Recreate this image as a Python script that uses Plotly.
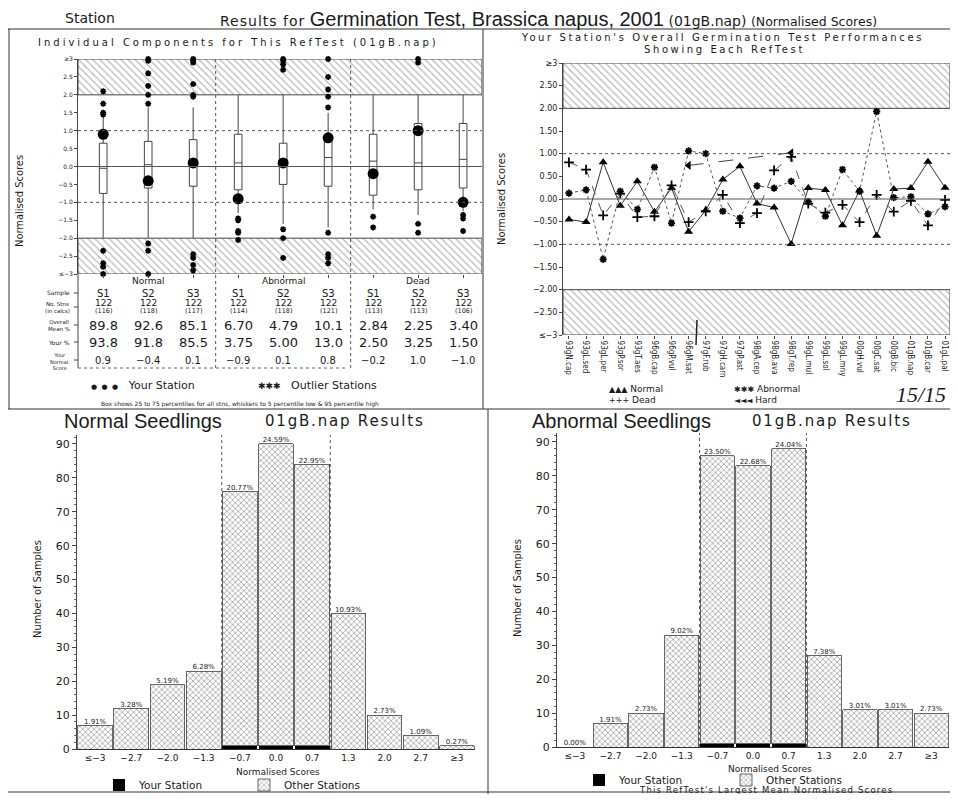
import plotly.graph_objects as go

# the page body adds an 8px margin on every side; size the figure so the page fits the window exactly
OFF = 8
W, H = 958 - 2 * OFF, 802 - 2 * OFF


def fx(p):
    return (p - OFF) / W


def fy(p):
    return 1 - (p - OFF) / H


GOTHIC = "DejaVu Sans"
ARIAL = "Liberation Sans, Arial"
NARROW = "Liberation Sans Narrow, DejaVu Sans Condensed"
COND = "DejaVu Sans Condensed"
INK = "#1a1a1a"

# ---------------- data: individual components (top-left) ----------------
categories = ["Normal", "Abnormal", "Dead"]
sample_labels = ["S1", "S2", "S3", "S1", "S2", "S3", "S1", "S2", "S3"]
box_pos = [1, 2, 3, 4, 5, 6, 7, 8, 9]
box_q1 = [-0.75, -0.60, -0.55, -0.65, -0.50, -0.55, -0.80, -0.65, -0.60]
box_median = [-0.05, 0.05, 0.20, 0.10, 0.10, 0.25, 0.15, 0.10, 0.20]
box_q3 = [0.65, 0.70, 0.75, 0.90, 0.65, 0.75, 0.90, 1.20, 1.20]
box_low = [-2.10, -2.00, -2.20, -1.30, -1.60, -1.70, -1.20, -1.35, -1.25]
box_high = [1.55, 1.65, 1.65, 3.00, 2.60, 1.50, 3.00, 3.00, 3.00]
outliers = [
    [2.1, 1.75, 1.5, 1.45, -2.35, -2.7, -2.8, -3.0],
    [3.0, 2.95, 2.6, 2.25, 2.0, 1.75, -2.15, -2.35, -3.0],
    [3.0, 2.95, 2.9, 2.3, 2.0, 1.95, -2.45, -2.55, -2.75, -2.9],
    [-1.45, -1.5, -1.8, -1.85, -2.05],
    [3.0, 2.95, 2.85, 2.7, -1.75, -2.0, -2.55],
    [3.0, 2.5, 2.15, 1.95, 1.65, -1.85, -2.45, -2.55, -2.7],
    [-1.4, -1.7],
    [3.0, 2.9, -1.6, -1.85],
    [-1.35, -1.45, -1.8],
]
your_score = [0.9, -0.4, 0.1, -0.9, 0.1, 0.8, -0.2, 1.0, -1.0]
n_stns = [122, 122, 122, 122, 122, 122, 122, 122, 122]
n_in_calcs = [116, 118, 117, 114, 118, 121, 113, 113, 106]
overall_mean = [89.8, 92.6, 85.1, 6.70, 4.79, 10.1, 2.84, 2.25, 3.40]
your_pct = [93.8, 91.8, 85.5, 3.75, 5.00, 13.0, 2.50, 3.25, 1.50]
tl_ytick_vals = [-3, -2.5, -2, -1.5, -1, -0.5, 0, 0.5, 1, 1.5, 2, 2.5, 3]
tl_ytick_text = ["≤−3", "−2.5", "−2.0", "−1.5", "−1.0", "−0.5", "0.0",
                 "0.5", "1.0", "1.5", "2.0", "2.5", "≥3"]

# ---------------- data: overall performances (top-right) ----------------
reftests = ["93gN.cap", "93gL.sed", "93gL.per", "93gP.sor", "93gT.aes",
            "96gB.cap", "96gP.vul", "96gM.sat", "97gF.rub", "97gH.carn",
            "97gP.ast", "98gA.cep", "98gB.ava", "98gT.rep", "99gL.mul",
            "99gL.sol", "99gL.mny", "00gH.vul", "00gC.sat", "00gB.bic",
            "01gB.nap", "01gB.car", "01gL.pal"]
perf_normal = [-0.45, -0.51, 0.81, -0.15, 0.39, -0.28, 0.24, -0.72, -0.25, 0.43,
               0.72, -0.10, -0.19, -0.99, 0.24, 0.20, -0.58, 0.19, -0.81, 0.22,
               0.24, 0.82, 0.25]
perf_abnormal = [0.13, 0.20, -1.33, 0.17, -0.23, 0.70, -0.53, 1.06, 1.00, -0.27,
                 -0.42, 0.29, 0.24, 0.39, -0.06, -0.38, 0.65, 0.17, 1.93, 0.03,
                 0.05, -0.33, -0.17]
perf_dead = [0.81, 0.65, -0.36, 0.12, -0.40, -0.38, 0.30, -0.51, -0.27, 0.09,
             -0.53, -0.31, 0.63, 0.93, -0.10, -0.30, -0.13, -0.51, 0.09, -0.28,
             -0.04, -0.58, -0.02]
perf_hard = [None, None, None, None, None, None, None, 0.74, None, None,
             None, None, None, 1.02, None, None, None, None, None, None,
             None, None, None]
tr_ytick_vals = [-3, -2.5, -2, -1.5, -1, -0.5, 0, 0.5, 1, 1.5, 2, 2.5, 3]
tr_ytick_text = ["≤−3", "−2.50", "−2.00", "−1.50", "−1.00", "−0.50", "0.00",
                 "0.50", "1.00", "1.50", "2.00", "2.50", "≥3"]

# ---------------- data: histograms (bottom) ----------------
score_bins = ["≤−3", "−2.7", "−2.0", "−1.3", "−0.7", "0.0", "0.7", "1.3", "2.0", "2.7", "≥3"]
normal_counts = [7, 12, 19, 23, 76, 90, 84, 40, 10, 4, 1]
normal_your = [0, 0, 0, 0, 1, 1, 1, 0, 0, 0, 0]
abnormal_counts = [0, 7, 10, 33, 86, 83, 88, 27, 11, 11, 10]
abnormal_your = [0, 0, 0, 0, 1, 1, 1, 0, 0, 0, 0]
count_ticks = [0, 10, 20, 30, 40, 50, 60, 70, 80, 90]

# ---------------- figure ----------------
fig = go.Figure()

XR1 = [0.44, 9.42]
XR2 = [0.65, 23.29]
YR = [-3, 3]
HATCH = dict(shape="\\", size=5, solidity=0.22, fgcolor="#6a6a6a", bgcolor="white")


def band(xr, y0, y1, xa, ya):
    return go.Scatter(x=[xr[0], xr[1], xr[1], xr[0], xr[0]], y=[y0, y0, y1, y1, y0],
                      xaxis=xa, yaxis=ya, mode="lines", fill="toself",
                      fillcolor="white", fillpattern=HATCH,
                      line=dict(color="#444", width=1), hoverinfo="skip", showlegend=False)


# top-left hatched extreme bands
fig.add_trace(band(XR1, 2, YR[1], "x", "y"))
fig.add_trace(band(XR1, YR[0], -2, "x", "y"))

fig.add_trace(go.Box(x=box_pos, q1=box_q1, median=box_median, q3=box_q3,
                     lowerfence=box_low, upperfence=box_high, orientation="v",
                     width=0.17, whiskerwidth=0, fillcolor="white", boxpoints=False,
                     line=dict(color="#444", width=1), xaxis="x", yaxis="y",
                     showlegend=False, hoverinfo="skip"))

ox, oy = [], []
for p, vals in zip(box_pos, outliers):
    for v in vals:
        ox.append(p)
        oy.append(v)
fig.add_trace(go.Scatter(x=ox, y=oy, mode="markers", xaxis="x", yaxis="y",
                         marker=dict(symbol="asterisk-open", size=5, color="black",
                                     line=dict(color="black", width=1.6)),
                         showlegend=False, hoverinfo="skip", cliponaxis=False))
fig.add_trace(go.Scatter(x=box_pos, y=your_score, mode="markers", xaxis="x", yaxis="y",
                         marker=dict(symbol="circle", size=11, color="black"),
                         showlegend=False, hoverinfo="skip"))

# top-right
fig.add_trace(band(XR2, 2, YR[1], "x2", "y2"))
fig.add_trace(band(XR2, YR[0], -2, "x2", "y2"))
xs = list(range(1, len(reftests) + 1))
fig.add_trace(go.Scatter(x=xs, y=perf_normal, mode="lines+markers", xaxis="x2", yaxis="y2",
                         line=dict(color="#333", width=1),
                         marker=dict(symbol="triangle-up", size=8, color="black"),
                         showlegend=False, hoverinfo="skip"))
fig.add_trace(go.Scatter(x=xs, y=perf_abnormal, mode="lines+markers", xaxis="x2", yaxis="y2",
                         line=dict(color="#555", width=1, dash="dot"),
                         marker=dict(symbol="asterisk-open", size=6, color="black",
                                     line=dict(color="black", width=1.8)),
                         showlegend=False, hoverinfo="skip"))
fig.add_trace(go.Scatter(x=xs, y=perf_dead, mode="lines+markers", xaxis="x2", yaxis="y2",
                         line=dict(color="#555", width=1, dash="dash"),
                         marker=dict(symbol="cross-thin-open", size=7, color="black",
                                     line=dict(color="black", width=1.8)),
                         showlegend=False, hoverinfo="skip"))
fig.add_trace(go.Scatter(x=xs, y=perf_hard, mode="lines+markers", xaxis="x2", yaxis="y2",
                         connectgaps=True,
                         line=dict(color="#444", width=1, dash="longdash"),
                         marker=dict(symbol="triangle-left", size=8, color="black"),
                         showlegend=False, hoverinfo="skip"))

# bottom histograms
bin_idx = list(range(len(score_bins)))
BAR_PATTERN = dict(shape="x", size=4, solidity=0.38, fgcolor="#555", bgcolor="white")


def hist(counts, your, xa, ya, leg):
    others = [c - u for c, u in zip(counts, your)]
    total = sum(counts)
    pct = [f"{100 * c / total:.2f}%" for c in counts]
    fig.add_trace(go.Bar(x=bin_idx, y=your, xaxis=xa, yaxis=ya, width=0.96,
                         marker=dict(color="black", line=dict(width=0)),
                         name="Your Station", legend=leg, hoverinfo="skip"))
    fig.add_trace(go.Bar(x=bin_idx, y=others, xaxis=xa, yaxis=ya, width=0.96,
                         marker=dict(color="white", pattern=BAR_PATTERN,
                                     line=dict(color="#444", width=0.8)),
                         name="Other Stations", legend=leg, hoverinfo="skip"))
    fig.add_trace(go.Scatter(x=bin_idx, y=counts, text=pct, mode="text", xaxis=xa, yaxis=ya,
                             textposition="top center", cliponaxis=False,
                             textfont=dict(size=7, family=GOTHIC, color=INK),
                             showlegend=False, hoverinfo="skip"))


hist(normal_counts, normal_your, "x3", "y3", "legend")
hist(abnormal_counts, abnormal_your, "x4", "y4", "legend2")

# ---------------- axes ----------------
AX = dict(showgrid=False, zeroline=False, automargin=False)
fig.update_layout(
    width=W, height=H, margin=dict(l=0, r=0, t=0, b=0, autoexpand=False),
    paper_bgcolor="white", plot_bgcolor="white",
    barmode="stack", bargap=0.04,
    font=dict(family=GOTHIC, color=INK),
    xaxis=dict(domain=[fx(78), fx(482)], range=XR1, tickvals=box_pos, showticklabels=False,
               ticks="outside", ticklen=3, tickcolor="#444", showline=False, anchor="y", **AX),
    yaxis=dict(domain=[fy(274), fy(59)], range=YR, tickvals=tl_ytick_vals, ticktext=tl_ytick_text,
               tickfont=dict(size=6, family=GOTHIC, color=INK), ticks="outside", ticklen=3,
               tickcolor="#444", showline=True, linecolor="#444", anchor="x", **AX),
    xaxis2=dict(domain=[fx(563), 1.0], range=XR2, tickvals=xs, ticktext=reftests,
                tickangle=90, tickfont=dict(size=8, family=COND, color=INK),
                ticklabeloverflow="allow",
                ticks="outside", ticklen=3, tickcolor="#444", showline=False, anchor="y2", **AX),
    yaxis2=dict(domain=[fy(335), fy(63)], range=YR, tickvals=tr_ytick_vals, ticktext=tr_ytick_text,
                tickfont=dict(size=8, family=GOTHIC, color=INK), ticks="outside", ticklen=3,
                tickcolor="#444", showline=True, linecolor="#444", anchor="x2", **AX),
    xaxis3=dict(domain=[fx(77), fx(475)], range=[-0.5, 10.5], tickvals=bin_idx, ticktext=score_bins,
                tickfont=dict(size=9, family=GOTHIC, color=INK), showline=True, linecolor="#333",
                ticks="", anchor="y3", **AX),
    yaxis3=dict(domain=[fy(749), fy(435)], range=[0, 92.65], tickvals=count_ticks,
                tickfont=dict(size=11, family=GOTHIC, color=INK), ticks="outside", ticklen=4,
                tickcolor="#444", showline=True, linecolor="#444", anchor="x3",
                minor=dict(ticks="outside", ticklen=2, dtick=2, tickcolor="#666"), **AX),
    xaxis4=dict(domain=[fx(557), fx(949)], range=[-0.5, 10.5], tickvals=bin_idx, ticktext=score_bins,
                tickfont=dict(size=9, family=GOTHIC, color=INK), showline=True, linecolor="#333",
                ticks="", anchor="y4", **AX),
    yaxis4=dict(domain=[fy(747), fy(433)], range=[0, 92.65], tickvals=count_ticks,
                tickfont=dict(size=11, family=GOTHIC, color=INK), ticks="outside", ticklen=4,
                tickcolor="#444", showline=True, linecolor="#444", anchor="x4",
                minor=dict(ticks="outside", ticklen=2, dtick=2, tickcolor="#666"), **AX),
    legend=dict(x=fx(99), y=fy(785), xanchor="left", yanchor="middle", orientation="h",
                entrywidth=100, font=dict(size=10.5, family=GOTHIC, color=INK),
                bgcolor="rgba(0,0,0,0)", traceorder="normal", tracegroupgap=0),
    legend2=dict(x=fx(579), y=fy(780), xanchor="left", yanchor="middle", orientation="h",
                 entrywidth=102, font=dict(size=10.5, family=GOTHIC, color=INK),
                 bgcolor="rgba(0,0,0,0)", traceorder="normal", tracegroupgap=0),
)

# ---------------- shapes ----------------
shapes = []


def pline(x0, y0, x1, y1, color="#333", width=1, dash="solid"):
    shapes.append(dict(type="line", xref="paper", yref="paper", x0=fx(x0), y0=fy(y0),
                       x1=fx(x1), y1=fy(y1), line=dict(color=color, width=width, dash=dash)))


# frames
pline(OFF, 29, 958, 29)
pline(OFF + 1, 29, OFF + 1, 409)
pline(483, 29, 483, 409)
pline(OFF, 409, 958, 409)
pline(488, 409, 488, 795)
pline(OFF, 792, 958, 792)

# reference lines in top panels
for xa, ya in (("x", "y"), ("x2", "y2")):
    shapes.append(dict(type="line", xref=f"{xa} domain", yref=ya, x0=0, x1=1, y0=0, y1=0,
                       line=dict(color="#555", width=1)))
    for v in (1, -1):
        shapes.append(dict(type="line", xref=f"{xa} domain", yref=ya, x0=0, x1=1, y0=v, y1=v,
                           line=dict(color="#555", width=1, dash="dot")))

# category separators through the top-left plot and table
for sep in (3.5, 6.5):
    shapes.append(dict(type="line", xref="x", yref="paper", x0=sep, x1=sep, y0=fy(368), y1=fy(59),
                       line=dict(color="#555", width=1, dash="dot")))
# table left axis and ticks
pline(78, 274, 78, 368, color="#444")
for ry in (293, 307, 325, 342, 360):
    pline(74, ry, 78, ry, color="#444")
pline(78, 368, 345, 368, color="#666", dash="dot")

# histogram +/-1 boundaries
for xa, ya in (("x3", "y3"), ("x4", "y4")):
    for sep in (3.5, 6.5):
        shapes.append(dict(type="line", xref=xa, yref=ya, x0=sep, x1=sep, y0=0, y1=92.65,
                           line=dict(color="#555", width=1, dash="dot")))

# pen mark on the top-right chart
pline(697, 320, 696, 345, color="#222", width=1.5)

fig.update_layout(shapes=shapes)

# ---------------- annotations ----------------
ann = []


def T(text, x, y, size=10, family=GOTHIC, xanchor="center", yanchor="middle",
      xref="paper", angle=0, color=INK):
    ann.append(dict(text=text, x=fx(x) if xref == "paper" else x, y=fy(y), xref=xref, yref="paper",
                    showarrow=False, font=dict(size=size, family=family, color=color),
                    xanchor=xanchor, yanchor=yanchor, textangle=angle))


T("Station", 90, 18, size=14)
T("<span style='letter-spacing:1px'>Results for</span> "
  "<span style='font-family:Liberation Sans, Arial;font-size:20px'>Germination Test, Brassica napus, 2001</span> "
  "<span style='font-size:14px'>(01gB.nap)</span> "
  "<span style='font-size:12.5px'>(Normalised Scores)</span>",
  218, 19, size=14, xanchor="left")

T("<span style='letter-spacing:3px'>Individual Components for This RefTest (01gB.nap)</span>",
  238, 43, size=10)
T("Normalised Scores", 20, 201, size=11, family=NARROW, angle=-90)

# table
for i, c in enumerate(categories):
    T(c, box_pos[3 * i + 1], 281, size=9, xref="x")
T("Sample", 72, 293, size=6, xanchor="right")
T("No. Stns<br>(in calcs)", 72, 307, size=5.5, xanchor="right")
T("Overall<br>Mean %", 72, 325, size=5.5, xanchor="right")
T("Your %", 72, 342, size=6, xanchor="right")
T("Your<br>Normal.<br>Score", 72, 361, size=5, xanchor="right")
for p, s, n, nc, om, yp, ys in zip(box_pos, sample_labels, n_stns, n_in_calcs,
                                   overall_mean, your_pct, your_score):
    T(s, p, 293, size=10, xref="x")
    T(str(n), p, 303, size=9, xref="x")
    T(f"({nc})", p, 311, size=6.5, xref="x")
    T(f"{om:#.3g}", p, 325, size=13, xref="x")
    T(f"{yp:#.3g}", p, 342, size=13, xref="x")
    T(f"{ys:.1f}".replace("-", "−"), p, 360, size=10, xref="x")

T("<span style='font-size:7px'>●  ●  ●</span>   Your Station", 89, 385, size=11, xanchor="left")
T("<span style='font-size:9px'>✱✱✱</span>   Outlier Stations", 256, 385, size=11, xanchor="left")
T("Box shows 25 to 75 percentiles for all stns, whiskers to 5 percentile low &amp; 95 percentile high",
  240, 404, size=6)

# top-right texts
T("<span style='letter-spacing:2.6px'>Your Station's Overall Germination Test Performances</span>",
  722, 38, size=10)
T("<span style='letter-spacing:2.6px'>Showing Each RefTest</span>", 724, 50, size=10)
T("Normalised Scores", 502, 199, size=11, family=NARROW, angle=-90)
T("<span style='font-size:8px'>▲▲▲</span> Normal", 607, 389, size=9, xanchor="left")
T("<span style='font-size:8px'>✱✱✱</span> Abnormal", 732, 389, size=9, xanchor="left")
T("<span style='font-size:8px'>+++</span> Dead", 607, 400, size=9, xanchor="left")
T("<span style='font-size:8px'>◄◄◄</span> Hard", 732, 400, size=9, xanchor="left")
T("<i>15/15</i>", 921, 394, size=22, family="Liberation Serif")

# bottom titles
T("Normal Seedlings", 62, 421, size=20, family=ARIAL, xanchor="left")
T("<span style='letter-spacing:1.8px'>01gB.nap Results</span>", 263, 421, size=15, xanchor="left")
T("Abnormal Seedlings", 530, 421, size=20, family=ARIAL, xanchor="left")
T("<span style='letter-spacing:1.8px'>01gB.nap Results</span>", 750, 421, size=15, xanchor="left")
T("Number of Samples", 37, 589, size=11, family=NARROW, angle=-90)
T("Number of Samples", 517, 588, size=11, family=NARROW, angle=-90)
T("Normalised Scores", 278, 772, size=9)
T("Normalised Scores", 770, 769, size=9)
T("<span style='letter-spacing:1.2px'>This RefTest's Largest Mean Normalised Scores</span>",
  766, 790, size=8.5)
T("Dead Seedlings", 62, 803, size=20, family=ARIAL, xanchor="left")
T("<span style='letter-spacing:1.8px'>01gB.nap Results</span>", 263, 803, size=15, xanchor="left")

fig.update_layout(annotations=ann)

fig.write_html("out.html")
